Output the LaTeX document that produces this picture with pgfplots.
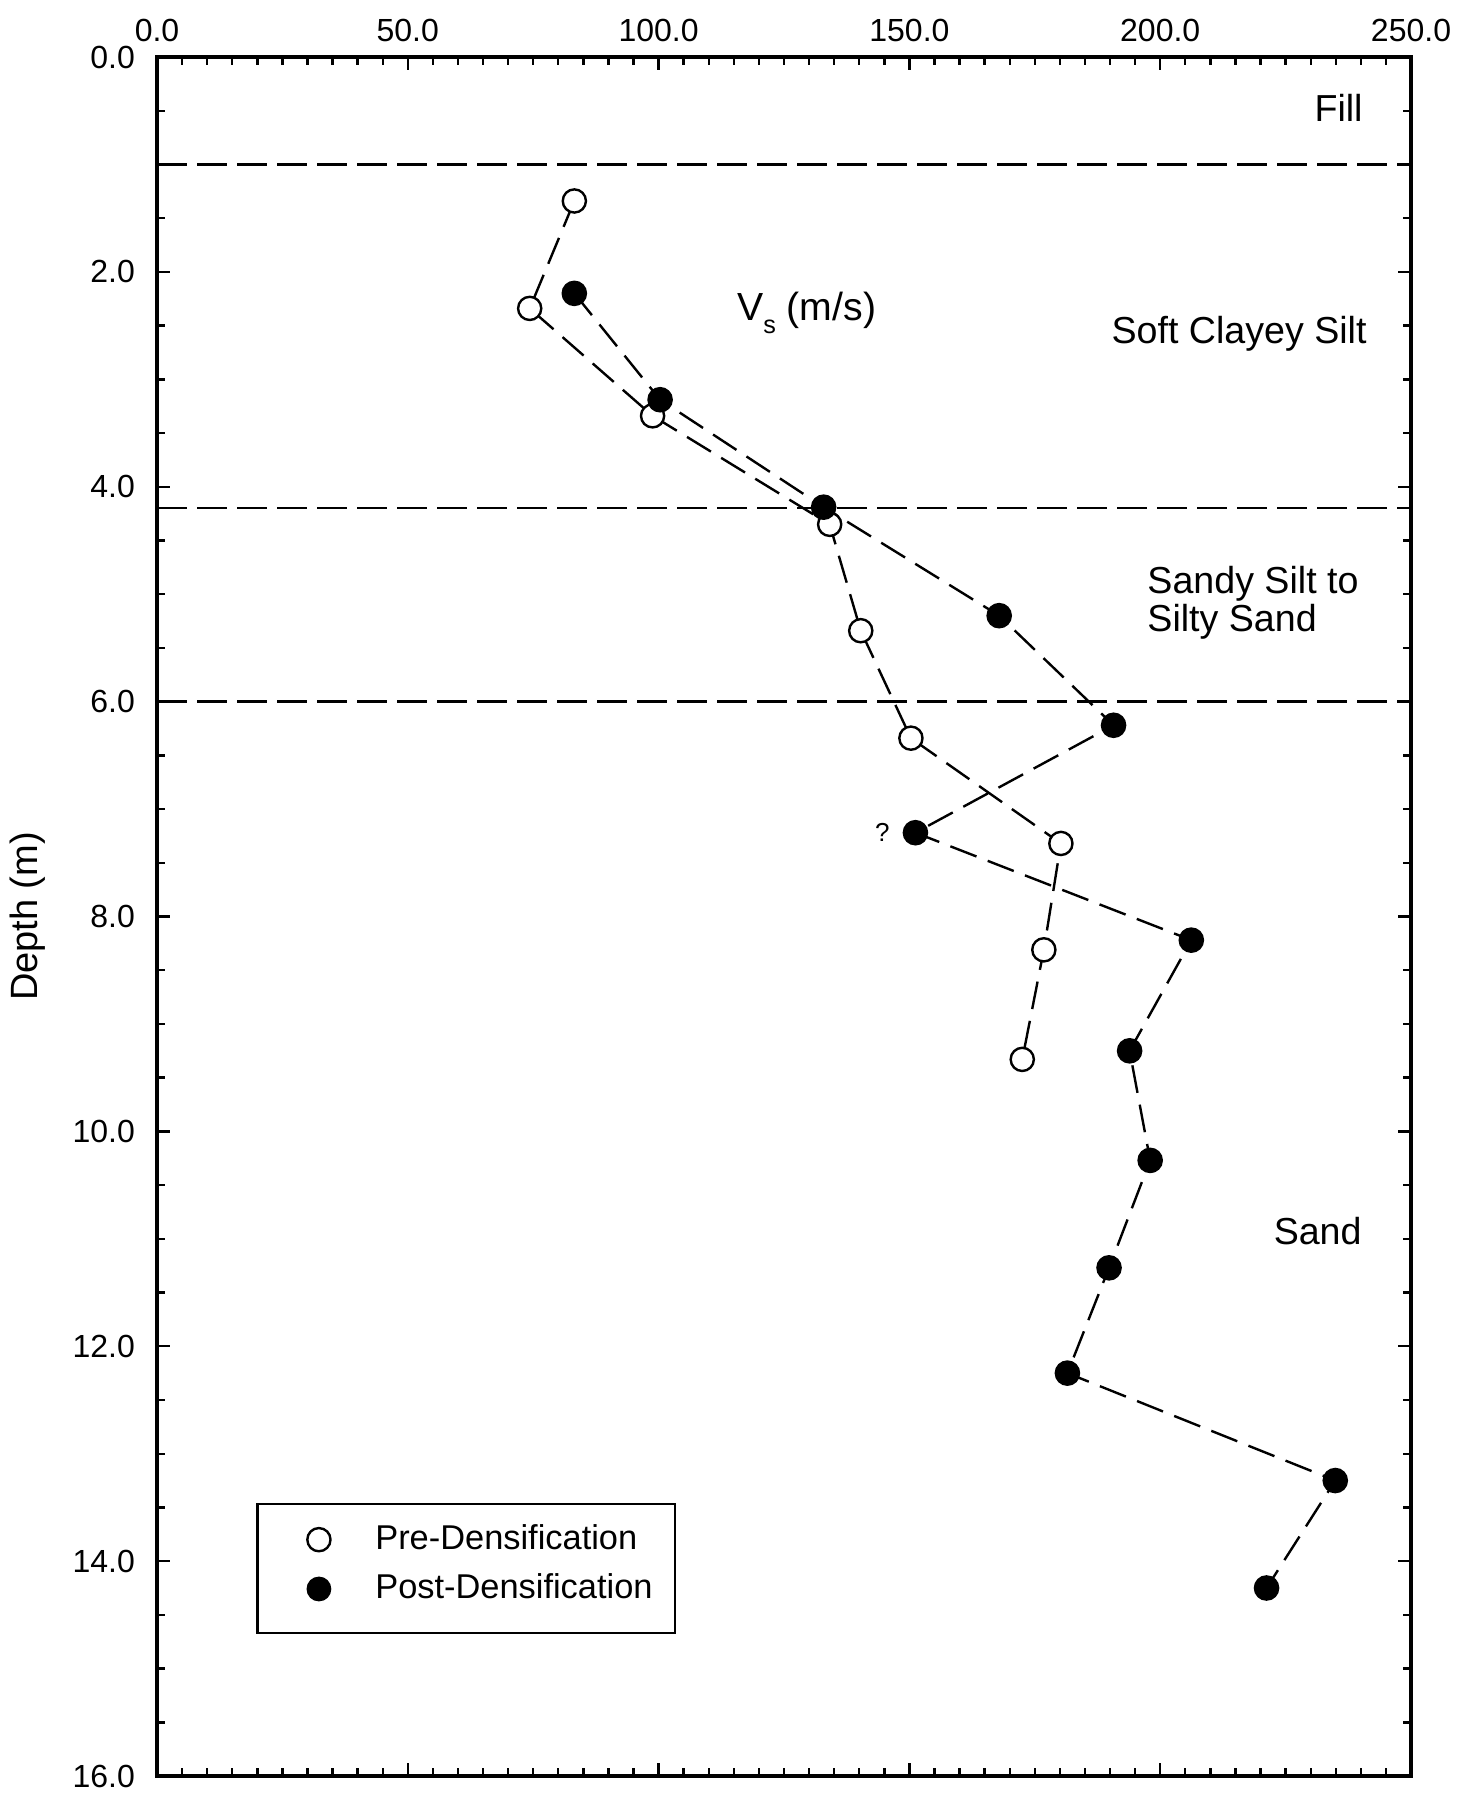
\documentclass[border=0pt]{standalone}
\usepackage{pgfplots}
\pgfplotsset{compat=1.18}
\usepackage{fontspec}
\setmainfont{Liberation Sans}
\newcommand\af{\fontsize{9.4}{9.45}\selectfont}
\newcommand\lf{\fontsize{8.6}{10}\selectfont}
\newcommand\tf{\fontsize{8}{9.6}\selectfont}

\begin{document}
\begin{tikzpicture}
\useasboundingbox (-39.25pt,-4.75pt) rectangle (329pt,444pt);
\begin{axis}[
  at={(0,0)}, anchor=south west,
  scale only axis, width=313.5pt, height=429.75pt,
  xmin=0, xmax=250, ymin=0, ymax=16, y dir=reverse,
  xtick={0,50,...,250}, ytick={0,2,...,16},
  minor x tick num=9, minor y tick num=3,
  xticklabel pos=upper, yticklabel pos=left,
  tick align=inside, major tick length=3.3pt, minor tick length=2pt,
  tick style={line width=0.6pt, black},
  axis line style={line width=0.8pt},
  /pgf/number format/fixed, /pgf/number format/fixed zerofill,
  /pgf/number format/precision=1, /pgf/number format/assume math mode=true,
  ticklabel style={font=\tf},
  xticklabel style={yshift=0.3pt},
  yticklabel style={xshift=-2pt},
  ylabel={Depth (m)},
  ylabel style={font=\fontsize{9.5}{11}\selectfont, at={(axis description cs:-0.103,0.5)}, anchor=center, rotate=0},
  legend style={draw=none, fill=none, at={(axis cs:20,13.47)}, anchor=north west,
    inner xsep=12.3pt, inner ysep=2.8pt, row sep=0.6pt, column sep=9.2pt,
    font=\lf, nodes={inner sep=2pt}},
  legend cell align=left,
]
% layer boundaries
\addplot[forget plot, black, line width=0.6pt, dash pattern=on 7.5pt off 2.5pt] coordinates {(0,1.0) (250,1.0)};
\addplot[forget plot, black, line width=0.6pt, dash pattern=on 7.5pt off 2.5pt] coordinates {(0,4.2) (250,4.2)};
\addplot[forget plot, black, line width=0.6pt, dash pattern=on 7.5pt off 2.5pt] coordinates {(0,6.0) (250,6.0)};

% Pre-densification
\addplot[forget plot, black, line width=0.6pt, dash pattern=on 7pt off 3pt, mark=*, mark size=2.9pt,
  mark options={solid, fill=white, draw=black, line width=0.6pt}] coordinates {
  (83.2,1.34) (74.3,2.34) (98.8,3.34) (134.1,4.35) (140.3,5.34)
  (150.3,6.34) (180.2,7.32) (176.8,8.31) (172.5,9.33)
};
% Post-densification
\addplot[forget plot, black, line width=0.6pt, dash pattern=on 7pt off 3pt, mark=*, mark size=2.9pt,
  mark options={solid, fill=black, draw=black}] coordinates {
  (83.2,2.20) (100.3,3.19) (132.9,4.19) (167.9,5.20) (190.7,6.22)
  (151.2,7.22) (206.2,8.22) (193.9,9.25) (198.0,10.27) (189.8,11.27)
  (181.5,12.25) (234.9,13.25) (221.2,14.25)
};

\draw[line width=0.6pt, fill=white] (axis cs:20,13.47) rectangle (axis cs:103.3,14.67);
\addlegendimage{only marks, mark=*, mark size=2.9pt, mark options={fill=white, draw=black, line width=0.6pt}}
\addlegendentry{Pre-Densification}
\addlegendimage{only marks, mark=*, mark size=2.9pt, mark options={fill=black, draw=black}}
\addlegendentry{Post-Densification}

\node[anchor=east, inner sep=0, font=\af] at (axis cs:240.5,0.47) {Fill};
\node[anchor=east, inner sep=0, font=\af] at (axis cs:241.3,2.58) {Soft Clayey Silt};
\node[anchor=west, inner sep=0, font=\af, align=left] at (axis cs:197.3,5.08) {Sandy Silt to\\Silty Sand};
\node[anchor=east, inner sep=0, font=\af] at (axis cs:240.3,10.93) {Sand};
\node[anchor=west, inner sep=0, font=\fontsize{9.8}{11}\selectfont] at (axis cs:115.5,2.38) {V\raisebox{-3.3pt}{\fontsize{6.3}{7}\selectfont s} (m/s)};
\node[inner sep=0, font=\fontsize{6.5}{7}\selectfont] at (axis cs:144.6,7.22) {?};
\end{axis}
\end{tikzpicture}
\end{document}
